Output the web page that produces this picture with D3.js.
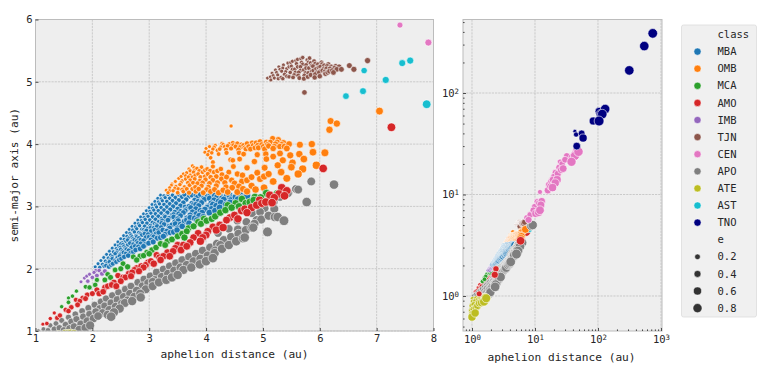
<!DOCTYPE html>
<html>
<head>
<meta charset="utf-8">
<script src="https://cdn.jsdelivr.net/npm/d3@7"></script>
<style>
body { margin: 0; background: #fff; }
text { font-family: "DejaVu Sans Mono", monospace; fill: #262626; }
</style>
</head>
<body>
<svg id="chart" width="763" height="370"></svg>
<script>
"use strict";

var classNames = ["MBA", "OMB", "MCA", "AMO", "IMB", "TJN", "CEN", "APO", "ATE", "AST", "TNO"]
var classColors = ["#1f77b4", "#ff7f0e", "#2ca02c", "#d62728", "#9467bd", "#8c564b", "#e377c2", "#7f7f7f", "#bcbd22", "#17becf", "#000080"]
var sizeLegend = [0.2, 0.4, 0.6, 0.8]
var linearXTicks = [1, 2, 3, 4, 5, 6, 7, 8]
var linearYTicks = [1, 2, 3, 4, 5, 6]
var logTicks = [1, 10, 100, 1000]

// every point is [aphelion distance, semi-major axis]
var mba = [
[2.05,2.03],[2.13,2.02],[2.21,2.04],[2.29,2.03],[2.10,2.08],[2.18,2.07],[2.26,2.09],[2.36,2.08],[2.15,2.13],[2.23,2.12],[2.31,2.14],[2.40,2.13],[2.47,2.14],
[2.20,2.18],[2.28,2.17],[2.35,2.19],[2.44,2.18],[2.56,2.19],[2.25,2.23],[2.32,2.22],[2.40,2.24],[2.49,2.23],[2.59,2.24],[2.67,2.25],
[2.30,2.28],[2.37,2.27],[2.44,2.29],[2.53,2.28],[2.64,2.29],[2.76,2.30],[2.35,2.33],[2.42,2.32],[2.49,2.34],[2.58,2.33],[2.69,2.34],[2.81,2.35],[2.90,2.36],
[2.40,2.38],[2.46,2.37],[2.54,2.39],[2.62,2.38],[2.72,2.39],[2.85,2.40],[2.99,2.41],[2.45,2.43],[2.52,2.42],[2.59,2.44],[2.68,2.43],[2.78,2.44],[2.90,2.45],[3.03,2.46],
[2.50,2.48],[2.56,2.47],[2.64,2.49],[2.72,2.48],[2.82,2.49],[2.94,2.50],[3.08,2.51],[3.20,2.50],[2.55,2.53],[2.61,2.52],[2.68,2.54],[2.77,2.53],[2.87,2.54],[2.98,2.55],[3.12,2.56],[3.28,2.55],
[2.60,2.58],[2.66,2.57],[2.74,2.59],[2.82,2.58],[2.92,2.59],[3.03,2.60],[3.16,2.61],[3.31,2.60],[3.43,2.59],[2.65,2.63],[2.71,2.62],[2.78,2.64],[2.87,2.63],[2.97,2.64],[3.08,2.65],[3.21,2.66],[3.36,2.65],[3.50,2.65],
[2.70,2.68],[2.76,2.67],[2.83,2.69],[2.92,2.68],[3.02,2.69],[3.13,2.70],[3.26,2.71],[3.40,2.70],[3.55,2.71],[2.75,2.73],[2.81,2.72],[2.88,2.74],[2.96,2.73],[3.06,2.74],[3.17,2.75],[3.30,2.76],[3.45,2.75],[3.62,2.76],
[2.80,2.78],[2.86,2.77],[2.93,2.79],[3.01,2.78],[3.11,2.79],[3.22,2.80],[3.35,2.81],[3.50,2.80],[3.66,2.81],[3.80,2.81],[2.85,2.83],[2.91,2.82],[2.98,2.84],[3.06,2.83],[3.16,2.84],[3.27,2.85],[3.40,2.86],[3.55,2.85],[3.72,2.86],[3.88,2.85],
[2.90,2.88],[2.96,2.87],[3.03,2.89],[3.11,2.88],[3.21,2.89],[3.32,2.90],[3.45,2.91],[3.60,2.90],[3.76,2.91],[3.93,2.90],[2.95,2.93],[3.01,2.92],[3.08,2.94],[3.16,2.93],[3.26,2.94],[3.37,2.95],[3.50,2.96],[3.65,2.95],[3.82,2.96],[3.98,2.95],[4.10,2.96],
[3.00,2.98],[3.06,2.97],[3.13,2.99],[3.21,2.98],[3.31,2.99],[3.42,3.00],[3.55,3.01],[3.70,3.00],[3.87,3.01],[4.04,3.00],[4.18,3.01],[3.05,3.03],[3.11,3.02],[3.18,3.04],[3.26,3.03],[3.36,3.04],[3.47,3.05],[3.60,3.06],[3.75,3.05],[3.92,3.06],[4.09,3.05],[4.26,3.06],
[3.10,3.08],[3.16,3.07],[3.23,3.09],[3.31,3.08],[3.41,3.09],[3.52,3.10],[3.65,3.11],[3.80,3.10],[3.97,3.11],[4.14,3.10],[4.31,3.11],[4.44,3.10],[3.15,3.13],[3.21,3.12],[3.28,3.14],[3.36,3.13],[3.46,3.14],[3.57,3.15],[3.70,3.16],[3.85,3.15],[4.02,3.16],[4.19,3.15],[4.36,3.16],[4.52,3.15],
[3.20,3.18],[3.26,3.17],[3.33,3.19],[3.41,3.18],[3.51,3.19],[3.62,3.19],[3.75,3.18],[3.90,3.19],[4.07,3.18],[4.24,3.19],[4.41,3.18],[4.60,3.18],[4.72,3.17],
[2.24,2.05],[2.33,2.06],[2.42,2.11],[2.51,2.16],[2.63,2.21],[2.72,2.27],[2.84,2.32],[2.93,2.39],[3.07,2.43],[3.14,2.49],[3.25,2.52],[3.37,2.58],[3.49,2.62],[3.58,2.68],[3.70,2.73],[3.84,2.78],[3.95,2.83],[4.06,2.90],[4.16,2.93],[4.24,2.98],[4.35,3.03],[4.42,3.06],[4.56,3.11],[4.66,3.14],
[2.30,2.11],[2.35,2.16],[2.48,2.20],[2.55,2.26],[2.60,2.31],[2.75,2.36],[2.80,2.41],[2.85,2.46],[3.00,2.51],[3.06,2.53],[3.17,2.58],[3.24,2.62],[3.35,2.68],[3.46,2.72],[3.51,2.77],[3.66,2.78],[3.72,2.82],[3.83,2.88],[3.90,2.93],[4.02,2.98],[4.12,3.03],[4.22,3.08],[4.28,3.13],[4.46,3.13],
[2.42,2.26],[2.50,2.31],[2.56,2.36],[2.66,2.41],[2.74,2.46],[2.78,2.51],[2.92,2.56],[2.95,2.61],[3.10,2.62],[3.14,2.68],[3.22,2.73],[3.33,2.78],[3.43,2.83],[3.52,2.88],[3.63,2.93],[3.73,2.98],[3.82,3.03],[3.93,3.08],[4.06,3.13],[4.15,3.18],
[2.50,2.40],[2.62,2.46],[2.70,2.51],[2.85,2.56],[2.90,2.62],[3.03,2.66],[3.10,2.72],[3.23,2.77],[3.28,2.83],[3.43,2.87],[3.55,2.92],[3.63,2.99],[3.78,3.03],[3.86,3.08],[3.96,3.14],[3.82,3.18]
]
var omb = [
[3.30,3.26],[3.36,3.30],[3.33,3.22],[3.42,3.25],[3.50,3.22],[3.60,3.24],[3.70,3.22],[3.82,3.24],[3.95,3.22],[4.08,3.24],[4.22,3.22],[4.38,3.23],[4.55,3.23],[4.72,3.24],
[3.40,3.36],[3.46,3.40],[3.47,3.32],[3.54,3.35],[3.62,3.31],[3.71,3.34],[3.81,3.31],[3.92,3.33],[4.04,3.31],[4.18,3.33],[4.35,3.31],[4.58,3.32],[4.80,3.33],[5.02,3.30],
[3.52,3.45],[3.58,3.41],[3.64,3.44],[3.72,3.42],[3.80,3.44],[3.89,3.41],[3.99,3.43],[4.12,3.42],[4.27,3.44],[4.45,3.42],[4.72,3.42],[4.95,3.44],[5.18,3.40],[5.42,3.45],
[3.60,3.52],[3.66,3.54],[3.72,3.50],[3.78,3.55],[3.86,3.52],[3.94,3.55],[4.03,3.52],[4.14,3.55],[4.28,3.51],[4.55,3.52],[4.90,3.54],[5.10,3.52],[5.32,3.55],[5.62,3.52],
[3.70,3.60],[3.76,3.65],[3.84,3.61],[3.92,3.63],[4.02,3.60],[4.12,3.64],[4.26,3.60],[4.48,3.64],[4.72,3.62],[5.03,3.62],[5.26,3.66],[5.50,3.63],[5.70,3.60],[5.94,3.66],
[4.12,3.71],[4.08,3.78],[4.43,3.75],[4.47,3.74],[4.59,3.76],[4.85,3.72],[5.06,3.76],[5.35,3.74],[5.52,3.70],[5.72,3.76],[5.48,3.82],[5.64,3.84],[5.05,3.84],[4.58,3.86],[4.22,3.84],
[3.98,3.87],[4.00,3.93],[4.05,3.88],[4.06,3.96],[4.12,3.92],[4.16,3.98],[4.20,3.90],[4.26,3.95],[4.30,3.99],[4.35,3.91],[4.38,3.97],[4.44,3.93],[4.47,4.02],[4.52,3.96],[4.57,3.91],[4.62,3.99],[4.68,3.94],[4.72,4.01],[4.78,3.92],[4.83,3.98],[4.88,4.02],[4.92,3.94],[4.98,3.99],[5.03,3.92],[5.06,4.03],[5.10,3.97],[5.17,4.09],[5.18,3.93],[5.22,4.00],[5.27,4.07],[5.30,3.96],[5.36,4.02],[5.42,3.93],[5.65,3.99],[5.86,4.00],[5.88,3.87],[6.09,3.86],
[3.79,3.62],[4.44,4.29],[6.19,4.37],[6.30,4.33],[6.17,4.23],[7.05,4.53],
[3.36,3.25],[3.39,3.34],[3.45,3.29],[3.51,3.28],[3.56,3.38],[3.58,3.27],[3.66,3.28],[3.68,3.38],[3.76,3.28],[3.77,3.38],[3.87,3.28],[3.85,3.37],[3.94,3.38],[4.01,3.27],[4.06,3.37],[4.15,3.27],[4.20,3.38],[4.30,3.26],[4.33,3.38],[4.46,3.30],[4.50,3.37],[4.65,3.28],[4.63,3.40],[4.87,3.27],
[3.56,3.48],[3.64,3.49],[3.69,3.47],[3.76,3.47],[3.81,3.50],[3.90,3.47],[3.98,3.48],[4.08,3.47],[4.18,3.48],[4.36,3.47],[4.40,3.55],[4.64,3.50],[4.80,3.47],[5.02,3.48],[3.72,3.57],[3.80,3.58],[3.88,3.57],[3.98,3.58],[4.07,3.57],[4.20,3.57],
[4.03,3.83],[4.10,3.86],[4.14,3.95],[4.24,3.92],[4.28,4.01],[4.33,3.96],[4.41,4.00],[4.48,3.98],[4.55,4.01],[4.60,3.95],[4.66,3.98],[4.70,3.92],[4.75,3.96],[4.81,4.02],[4.86,3.94],[4.91,3.98],[4.95,4.04],[5.01,3.96],[5.08,3.99],[5.13,4.03],[5.20,3.96],[5.25,4.03],[5.33,3.99],[5.38,3.96],[5.46,4.00],[4.36,3.86],[4.66,3.84],[4.90,3.83],[5.18,3.80],[5.30,3.85]
]
var mca = [
[1.46,1.39],[1.58,1.53],[1.58,1.46],[1.72,1.64],[1.65,1.56],[1.88,1.71],[1.95,1.70],[2.08,1.82],[2.05,1.74],[2.22,1.82],[2.27,1.91],[2.40,1.98],[2.50,2.00],[2.62,2.03],[2.72,2.19],[2.84,2.20],[2.90,2.21],[2.96,2.26],[3.05,2.30],[3.12,2.34],[3.20,2.40],[3.32,2.44],[3.40,2.47],[3.50,2.52],[3.58,2.56],[3.69,2.65],[3.66,2.60],[3.78,2.68],[3.86,2.75],[3.91,2.72],[4.01,2.77],[4.10,2.80],[4.16,2.84],[4.25,2.90],[4.34,2.94],[4.45,2.98],[4.52,3.05],[4.63,3.12],[4.70,3.05],[4.77,3.07],[4.86,3.15],[4.96,3.14],[5.06,3.21],[5.25,3.20],
[2.32,1.86],[2.54,2.08],[2.78,2.14],[3.00,2.24],[3.28,2.38],[3.62,2.50],[3.96,2.80],[4.38,3.02],[4.58,3.00],[4.84,3.10]
]
var amo = [
[1.13,1.11],[1.26,1.20],[1.33,1.29],[1.43,1.25],[1.53,1.34],[1.63,1.38],[1.71,1.50],[1.78,1.48],[1.83,1.53],[1.91,1.58],[2.00,1.60],[2.08,1.66],[2.19,1.63],[2.27,1.72],[2.34,1.74],[2.45,1.89],[2.50,1.80],[2.58,1.86],[2.64,1.92],[2.70,1.94],[2.78,2.01],[2.86,2.04],[2.94,2.06],[3.03,2.12],[3.13,2.22],[3.20,2.14],[3.25,2.20],[3.32,2.26],[3.42,2.28],[3.50,2.38],[3.60,2.38],[3.72,2.42],[3.86,2.57],[3.94,2.50],[4.03,2.60],[4.12,2.67],[4.24,2.70],[4.36,2.78],[4.50,2.86],[4.62,2.93],[4.72,2.90],[4.80,2.98],[4.89,3.02],[4.98,3.05],[5.12,3.18],[5.20,3.14],[5.33,3.30],[5.42,3.25],[6.06,3.61],[7.26,4.27],
[1.20,1.12],[1.38,1.21],[1.58,1.32],[1.74,1.42],[1.88,1.52],[2.12,1.60],[2.22,1.70],[2.38,1.78],[2.42,1.72],[2.54,1.86],[2.68,1.88],[2.74,1.98],[2.82,1.96],[2.90,2.02],[2.98,2.10],[3.08,2.08],[3.18,2.18],[3.36,2.20],[3.46,2.33],[3.56,2.30],[3.66,2.36],[3.78,2.50],[3.90,2.44],[4.00,2.54],[4.18,2.62],[4.30,2.66],[4.42,2.82],[4.56,2.80],[4.68,2.96],[4.94,3.10],[5.05,3.07],[5.16,3.06],[5.28,3.20],[5.38,3.17]
]
var imb = [
[1.80,1.79],[1.86,1.85],[1.92,1.80],[1.95,1.91],[2.00,1.86],[2.03,1.94],[2.08,1.89],[2.12,1.97],[2.17,1.92],[2.22,1.96],[1.90,1.88],[2.06,1.97]
]
var tjn = [
[5.08,5.06],[5.13,5.08],[5.16,5.14],[5.20,5.06],[5.22,5.19],[5.26,5.11],[5.28,5.24],[5.32,5.07],[5.33,5.17],[5.36,5.27],[5.38,5.12],[5.42,5.21],[5.44,5.30],[5.46,5.08],[5.48,5.15],[5.50,5.25],[5.52,5.33],[5.55,5.11],[5.56,5.20],[5.59,5.29],[5.61,5.36],[5.63,5.15],[5.64,5.06],[5.66,5.24],[5.68,5.31],[5.70,5.39],[5.72,5.19],[5.73,5.10],[5.76,5.27],[5.78,5.35],[5.80,5.14],[5.81,5.22],[5.84,5.30],[5.86,5.17],[5.88,5.25],[5.90,5.33],[5.92,5.12],[5.94,5.21],[5.97,5.28],[5.99,5.15],[6.01,5.24],[6.03,5.31],[6.05,5.18],[6.08,5.26],[6.10,5.13],[6.12,5.21],[6.15,5.28],[6.17,5.17],[6.20,5.24],[6.22,5.18],[6.26,5.22],[6.30,5.20],[6.34,5.24],[6.38,5.20],[6.52,5.26],[6.60,5.20],[6.84,5.34],[5.73,4.83],
[5.14,5.03],[5.18,5.10],[5.24,5.15],[5.27,5.05],[5.30,5.20],[5.35,5.22],[5.35,5.05],[5.40,5.16],[5.42,5.09],[5.46,5.24],[5.49,5.31],[5.52,5.20],[5.53,5.07],[5.57,5.15],[5.58,5.34],[5.61,5.24],[5.62,5.10],[5.66,5.18],[5.67,5.37],[5.70,5.28],[5.72,5.05],[5.75,5.14],[5.76,5.22],[5.79,5.08],[5.80,5.31],[5.82,5.38],[5.84,5.11],[5.86,5.26],[5.89,5.18],[5.91,5.07],[5.92,5.29],[5.95,5.15],[5.98,5.23],[6.00,5.09],[6.02,5.18],[6.04,5.28],[6.07,5.21],[6.09,5.16],[6.13,5.25],[6.14,5.15],[6.18,5.21],[6.24,5.15],[6.28,5.25]
]
var cen = [
[7.41,5.91],[7.91,5.63],[8.4,6.3],[9.4,7.0],[9.9,7.6],[10.3,6.5],[11.4,6.7],[12.0,7.0],[10.8,8.5],[11.6,8.2],[12.4,7.9],[12.8,8.6],[12.0,10.6],[16,11],[17.5,12],[19,11.7],[21,13],[19,14],[16.5,12.5],[20,15],[18,13.5],[22.5,14],[23,16],[24,18.5],[21,16.5],[26,17.5],[25,21],[27,20],[28,18],[30,22],[32,24],[40,23.5],[38,21],[43,24],[44,25],[46,27],[49,26.4]
]
var apo = [
[1.05,1.00],[1.14,1.03],[1.22,1.01],[1.26,1.09],[1.33,1.03],[1.36,1.12],[1.42,1.05],[1.46,1.17],[1.50,1.01],[1.53,1.10],[1.58,1.22],[1.60,1.04],[1.63,1.15],[1.68,1.07],[1.70,1.27],[1.72,1.19],[1.77,1.02],[1.80,1.11],[1.82,1.32],[1.84,1.23],[1.88,1.05],[1.91,1.16],[1.93,1.37],[1.95,1.27],[1.96,1.09],
[2.02,1.20],[2.04,1.42],[2.06,1.31],[2.10,1.24],[2.13,1.36],[2.15,1.47],[2.18,1.29],[2.22,1.40],[2.24,1.52],[2.27,1.26],[2.30,1.34],[2.33,1.45],[2.35,1.57],[2.33,1.23],[2.38,1.30],[2.41,1.39],[2.44,1.50],[2.46,1.62],[2.48,1.36],[2.52,1.44],[2.55,1.55],[2.57,1.45],[2.58,1.67],[2.62,1.49],[2.66,1.60],[2.68,1.72],[2.70,1.48],[2.74,1.55],[2.78,1.65],[2.80,1.78],[2.85,1.54],[2.84,1.60],[2.88,1.72],[2.91,1.83],[2.94,1.67],[2.98,1.77],[3.02,1.88],[3.06,1.79],[3.06,1.72],[3.10,1.82],[3.13,1.94],[3.17,1.78],[3.22,1.87],[3.25,1.99],[3.30,1.82],[3.33,1.92],[3.36,2.04],[3.40,1.86],[3.44,1.97],[3.47,2.09],[3.50,1.90],[3.55,2.02],[3.58,2.14],[3.60,1.98],[3.66,2.06],[3.70,2.19],[3.74,2.02],[3.78,2.12],[3.82,2.24],[3.89,2.07],[3.90,2.16],[3.94,2.29],[4.00,2.12],[4.03,2.21],[4.07,2.34],[4.15,2.25],[4.12,2.17],[4.16,2.29],[4.19,2.40],[4.21,2.57],[4.25,2.38],[4.28,2.32],[4.31,2.46],[4.40,2.38],[4.40,2.64],[4.44,2.51],[4.53,2.44],[4.55,2.77],[4.56,2.63],[4.57,2.56],[4.65,2.49],[4.68,2.50],[4.70,2.62],[4.71,2.75],[4.80,2.66],[4.81,2.89],[4.83,2.66],[4.85,2.72],[4.89,2.78],[4.95,2.91],[4.97,2.79],[5.03,2.97],[5.08,2.59],[5.10,2.85],[5.19,3.07],[5.21,2.83],[5.26,2.83],[5.37,2.77],[5.20,2.96],[5.30,3.15],[5.44,3.21],[5.45,3.22],[5.62,3.27],[5.58,3.28],[5.77,3.07],[5.85,3.40],[6.25,3.35],[8.7,4.9],[9.2,5.0]
]
var ate = [
[1.00,0.62],[1.02,0.66],[1.12,0.68],[1.00,0.72],[1.06,0.74],[1.15,0.76],[1.00,0.80],[1.08,0.82],[1.22,0.80],[1.30,0.85],[1.04,0.88],[1.14,0.88],[1.42,0.86],[1.55,0.88],[1.60,0.91],[1.02,0.94],[1.18,0.94],[1.30,0.92],[1.48,0.93],[1.68,0.95],[1.58,0.96],[1.40,0.95],[1.52,0.96],[1.62,0.96]
]
var ast = [
[6.46,4.77],[6.76,4.85],[6.78,5.18],[7.16,5.03],[7.45,5.30],[7.59,5.34],[7.88,4.64]
]
var tno = [
[740,387],[543,290],[314,167],[130,69.5],[117,62],[110,62],[104,66],[104,53],[84,53],[58,36],[55,40],[45,39],[43,42],[46,30]
]
// the few red points that show through on the log panel
var amoLogTop = [[1.3,1.05],[2.3,1.62],[2.4,1.85],[5.9,3.5]]

var linearOrder = [[mba, "MBA"], [omb, "OMB"], [tjn, "TJN"], [apo, "APO"], [cen, "CEN"], [ate, "ATE"], [imb, "IMB"], [mca, "MCA"], [amo, "AMO"], [ast, "AST"], [tno, "TNO"]]
var logOrder = [[amo, "AMO"], [mca, "MCA"], [ast, "AST"], [imb, "IMB"], [tjn, "TJN"], [omb, "OMB"], [mba, "MBA"], [apo, "APO"], [cen, "CEN"], [ate, "ATE"], [tno, "TNO"], [amoLogTop, "AMO"]]

var svg = d3.select("#chart")
var color = d3.scaleOrdinal().domain(classNames).range(classColors)
var area = d3.scaleLinear().domain([0, 1]).range([3.5, 25])

// eccentricity follows from aphelion and semi-major axis
function eccentricity(d) {
    return Math.max(d[0] / d[1] - 1, 0)
}

function markerRadius(e) {
    return Math.sqrt(area(e))
}

function drawPoints(group, x, y, order) {
    order.forEach(function ([points, name]) {
        // small markers go underneath so the big ones stay readable
        var sorted = points.slice().sort((p, q) => d3.ascending(eccentricity(p), eccentricity(q)))
        group.append("g").selectAll("circle")
            .data(sorted)
            .join("circle")
            .attr("cx", d => x(d[0]))
            .attr("cy", d => y(d[1]))
            .attr("r", d => markerRadius(eccentricity(d)))
            .attr("fill", color(name))
            .attr("stroke", "#fff")
            .attr("stroke-width", 0.6)
    })
}

function createPanel(id, box) {
    var panel = svg.append("g").attr("transform", "translate(" + box.left + "," + box.top + ")")
    var width = box.right - box.left
    var height = box.bottom - box.top

    panel.append("rect").attr("width", width).attr("height", height).attr("fill", "#eeeeee")
    svg.append("clipPath").attr("id", id).append("rect").attr("width", width).attr("height", height)

    return [panel, width, height]
}

function drawGrid(panel, x, y, xTicks, yTicks, width, height) {
    panel.append("g").selectAll("line").data(xTicks).join("line")
        .attr("x1", d => x(d)).attr("x2", d => x(d)).attr("y1", 0).attr("y2", height)
    panel.append("g").selectAll("line").data(yTicks).join("line")
        .attr("y1", d => y(d)).attr("y2", d => y(d)).attr("x1", 0).attr("x2", width)
    panel.selectAll("line")
        .attr("stroke", "#b2b2b2").attr("stroke-width", 0.6).attr("stroke-dasharray", "2.2,1")
}

function drawSpines(panel, width, height) {
    panel.append("rect").attr("width", width).attr("height", height)
        .attr("fill", "none").attr("stroke", "#bcbcbc").attr("stroke-width", 1)
}

function styleAxis(axisGroup) {
    axisGroup.select(".domain").remove()
    axisGroup.selectAll("line").attr("stroke", "#262626").attr("stroke-width", 0.8)
    axisGroup.selectAll("text").style("font-size", "10.5px")
    axisGroup.attr("font-family", null).attr("font-size", null)
}

function drawLinearPanel() {
    var box = {left: 35.5, right: 433.5, top: 19.5, bottom: 331}
    var [panel, width, height] = createPanel("clipLinear", box)
    var x = d3.scaleLinear().domain([1, 8]).range([0, width])
    var y = d3.scaleLinear().domain([1, 6]).range([height, 0])

    drawGrid(panel, x, y, linearXTicks, linearYTicks, width, height)
    var points = panel.append("g").attr("clip-path", "url(#clipLinear)")
    drawPoints(points, x, y, linearOrder)
    drawSpines(panel, width, height)

    var xAxis = panel.append("g").attr("transform", "translate(0," + height + ")")
        .call(d3.axisBottom(x).tickValues(linearXTicks).tickFormat(d3.format("d")).tickSize(-3).tickPadding(4))
    var yAxis = panel.append("g")
        .call(d3.axisLeft(y).tickValues(linearYTicks).tickFormat(d3.format("d")).tickSize(-3).tickPadding(3))
    styleAxis(xAxis)
    styleAxis(yAxis)

    panel.append("text").attr("x", width / 2).attr("y", height + 27)
        .attr("text-anchor", "middle").style("font-size", "11.2px").text("aphelion distance (au)")
    panel.append("text").attr("transform", "translate(-18," + (height / 2) + ") rotate(-90)")
        .attr("text-anchor", "middle").style("font-size", "11.2px").text("semi-major axis (au)")
}

function powerLabel(selection) {
    selection.each(function (d) {
        var label = d3.select(this).text("10")
        label.append("tspan").attr("dy", "-0.42em").style("font-size", "7.4px").text(Math.round(Math.log10(d)))
    })
}

function minorTicks(scale) {
    return scale.ticks().filter(d => !logTicks.includes(d))
}

function drawLogPanel() {
    var box = {left: 463, right: 662, top: 19.5, bottom: 331}
    var [panel, width, height] = createPanel("clipLog", box)
    var x = d3.scaleLog().domain([0.72, 1038]).range([0, width])
    var y = d3.scaleLog().domain([0.452, 530]).range([height, 0])

    drawGrid(panel, x, y, logTicks, [1, 10, 100], width, height)
    var points = panel.append("g").attr("clip-path", "url(#clipLog)")
    drawPoints(points, x, y, logOrder)
    drawSpines(panel, width, height)

    var xAxis = panel.append("g").attr("transform", "translate(0," + height + ")")
        .call(d3.axisBottom(x).tickValues(logTicks).tickSize(-3).tickPadding(5))
    var yAxis = panel.append("g")
        .call(d3.axisLeft(y).tickValues([1, 10, 100]).tickSize(-3).tickPadding(4))
    styleAxis(xAxis)
    styleAxis(yAxis)
    xAxis.selectAll("text").call(powerLabel)
    yAxis.selectAll("text").call(powerLabel)

    var xMinor = panel.append("g").attr("transform", "translate(0," + height + ")")
        .call(d3.axisBottom(x).tickValues(minorTicks(x)).tickFormat("").tickSize(-1.6))
    var yMinor = panel.append("g")
        .call(d3.axisLeft(y).tickValues(minorTicks(y)).tickFormat("").tickSize(-1.6))
    styleAxis(xMinor)
    styleAxis(yMinor)

    panel.append("text").attr("x", width / 2 - 1).attr("y", height + 30)
        .attr("text-anchor", "middle").style("font-size", "11.2px").text("aphelion distance (au)")
}

function drawLegend() {
    var legend = svg.append("g").attr("transform", "translate(681.5,25)")
    legend.append("rect").attr("width", 75).attr("height", 292).attr("rx", 2)
        .attr("fill", "#f0f0f0").attr("stroke", "#dcdcdc").attr("stroke-width", 0.8)

    var rowY = i => 9.5 + i * 17.1
    var markerX = 16
    var textX = 36

    legend.append("text").attr("x", textX).attr("y", rowY(0)).attr("dy", "0.35em")
        .style("font-size", "10.5px").text("class")
    classNames.forEach(function (name, i) {
        legend.append("circle").attr("cx", markerX).attr("cy", rowY(i + 1)).attr("r", 3.6)
            .attr("fill", color(name)).attr("stroke", "#fff").attr("stroke-width", 0.5)
        legend.append("text").attr("x", textX).attr("y", rowY(i + 1)).attr("dy", "0.35em")
            .style("font-size", "10.5px").text(name)
    })

    legend.append("text").attr("x", textX).attr("y", rowY(12)).attr("dy", "0.35em")
        .style("font-size", "10.5px").text("e")
    sizeLegend.forEach(function (e, i) {
        legend.append("circle").attr("cx", markerX).attr("cy", rowY(13 + i)).attr("r", markerRadius(e))
            .attr("fill", "#333333").attr("stroke", "#fff").attr("stroke-width", 0.5)
        legend.append("text").attr("x", textX).attr("y", rowY(13 + i)).attr("dy", "0.35em")
            .style("font-size", "10.5px").text(e.toFixed(1))
    })
}

drawLinearPanel()
drawLogPanel()
drawLegend()
</script>
</body>
</html>
